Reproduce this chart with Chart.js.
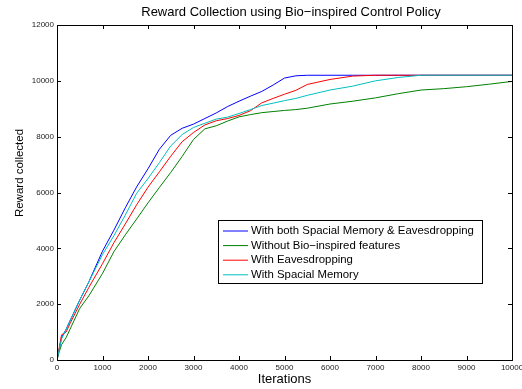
<!DOCTYPE html>
<html>
<head>
<meta charset="utf-8">
<script src="https://cdn.jsdelivr.net/npm/chart.js@4.4.1/dist/chart.umd.min.js"></script>
<style>
  body { margin: 0; background: #fff; }
  canvas { display: block; }
</style>
</head>
<body>
<canvas id="grafico" width="522" height="389"></canvas>
<script>
// valores
const iterations = [0, 50, 100, 200, 300, 500, 700, 1000, 1250, 1500, 1750, 2000, 2250, 2500, 2750, 3000,
    3250, 3500, 3750, 4000, 4250, 4500, 4750, 5000, 5250, 5500, 6000, 6500, 7000, 7500, 8000, 8500, 9000, 9500, 10000];

const rewardBoth = [0, 400, 800, 1100, 1450, 2150, 2800, 3900, 4650, 5450, 6200, 6850, 7550, 8050, 8300, 8450,
    8650, 8850, 9080, 9270, 9450, 9620, 9850, 10100, 10180, 10200, 10200, 10200, 10200, 10200, 10200, 10200, 10200, 10200, 10200];

const rewardNone = [0, 300, 550, 800, 1150, 1850, 2300, 3100, 3880, 4480, 5050, 5630, 6180, 6720, 7290, 7900,
    8280, 8390, 8560, 8710, 8790, 8860, 8900, 8940, 8970, 9020, 9170, 9270, 9390, 9540, 9670, 9720, 9790, 9880, 9980];

const rewardEaves = [0, 450, 900, 1000, 1350, 2000, 2600, 3450, 4200, 4870, 5560, 6190, 6740, 7300, 7820, 8150,
    8420, 8570, 8650, 8760, 8930, 9210, 9370, 9520, 9660, 9870, 10050, 10170, 10200, 10200, 10200, 10200, 10200, 10200, 10200];

const rewardSpatial = [0, 400, 750, 1100, 1450, 2150, 2800, 3780, 4450, 5190, 5970, 6500, 7070, 7670, 8075, 8330,
    8480, 8630, 8700, 8830, 8970, 9115, 9200, 9290, 9370, 9480, 9670, 9810, 10000, 10120, 10200, 10200, 10200, 10200, 10200];

const seriesLabels = [
    'With both Spacial Memory & Eavesdropping',
    'Without Bio\u2212inspired features',
    'With Eavesdropping',
    'With Spacial Memory'
];
const seriesColors = ['#0000ff', '#008000', '#ff0000', '#00bfbf'];

const xTicks = [0, 1000, 2000, 3000, 4000, 5000, 6000, 7000, 8000, 9000, 10000];
const yTicks = [0, 2000, 4000, 6000, 8000, 10000, 12000];

const FONTE = '"Liberation Sans", Arial, Helvetica, sans-serif';
const tituloGrafico = 'Reward Collection using Bio\u2212inspired Control Policy';
const tituloY = 'Reward collected';

function pontos(valores) {
    return iterations.map((it, i) => ({ x: it, y: valores[i] }));
}

// moldura, ticks para dentro, títulos e legenda dentro da área (estilo MATLAB)
const estiloMatlab = {
    id: 'estiloMatlab',
    afterDraw(chart) {
        const { ctx, chartArea: a, scales } = chart;
        ctx.save();
        ctx.strokeStyle = '#000';
        ctx.lineWidth = 1;
        ctx.strokeRect(Math.round(a.left) + 0.5, Math.round(a.top) + 0.5,
            Math.round(a.right - a.left), Math.round(a.bottom - a.top));

        const tam = 4;
        ctx.beginPath();
        xTicks.forEach(v => {
            const px = Math.round(scales.x.getPixelForValue(v)) + 0.5;
            ctx.moveTo(px, a.bottom); ctx.lineTo(px, a.bottom - tam);
            ctx.moveTo(px, a.top); ctx.lineTo(px, a.top + tam);
        });
        yTicks.forEach(v => {
            const py = Math.round(scales.y.getPixelForValue(v)) + 0.5;
            ctx.moveTo(a.left, py); ctx.lineTo(a.left + tam, py);
            ctx.moveTo(a.right, py); ctx.lineTo(a.right - tam, py);
        });
        ctx.stroke();

        ctx.fillStyle = '#000';
        ctx.textAlign = 'center';
        ctx.textBaseline = 'middle';

        // título do gráfico (no original fica um pouco à direita do centro)
        ctx.font = '13px ' + FONTE;
        ctx.fillText(tituloGrafico, 291, 12);

        // título do eixo y (um pouco acima do centro)
        ctx.save();
        ctx.translate(20, 173);
        ctx.rotate(-Math.PI / 2);
        ctx.font = '11.5px ' + FONTE;
        ctx.fillText(tituloY, 0, 0);
        ctx.restore();

        // legenda
        const lx = 218.5, ly = 220.5, lw = 264, lh = 63;
        ctx.fillStyle = '#fff';
        ctx.fillRect(lx, ly, lw, lh);
        ctx.strokeRect(lx, ly, lw, lh);
        ctx.font = '11.4px ' + FONTE;
        ctx.textAlign = 'left';
        chart.data.datasets.forEach((ds, i) => {
            const y = 231 + i * 14.6;
            ctx.strokeStyle = ds.borderColor;
            ctx.beginPath();
            ctx.moveTo(223, y); ctx.lineTo(248, y);
            ctx.stroke();
            ctx.fillStyle = '#000';
            ctx.fillText(ds.label, 251, y);
        });
        ctx.restore();
    }
};

const valores = [rewardBoth, rewardNone, rewardEaves, rewardSpatial];

const config = {
    type: 'line',
    data: {
        datasets: valores.map((v, i) => ({
            label: seriesLabels[i],
            data: pontos(v),
            borderColor: seriesColors[i],
            backgroundColor: seriesColors[i],
            borderWidth: 1,
            pointRadius: 0,
            tension: 0,
            fill: false,
            order: 4 - i // último desenhado por cima, como no MATLAB
        }))
    },
    options: {
        responsive: false,
        animation: false,
        layout: { padding: { left: 0, right: 10, top: 25, bottom: 0 } },
        plugins: {
            legend: { display: false },
            tooltip: { enabled: false },
            title: { display: false }
        },
        scales: {
            x: {
                type: 'linear',
                min: 0,
                max: 10000,
                afterBuildTicks: s => { s.ticks = xTicks.map(v => ({ value: v })); },
                afterFit: s => { s.height = 29; s.paddingLeft = 0; s.paddingRight = 0; },
                grid: { display: false, drawTicks: false },
                border: { display: false },
                ticks: {
                    color: '#222', font: { family: FONTE, size: 8 }, padding: 3,
                    maxRotation: 0, autoSkip: false, callback: v => String(v)
                },
                title: {
                    display: true,
                    text: 'Iterations',
                    color: '#000',
                    font: { family: FONTE, size: 13 },
                    padding: { top: 0, bottom: 2.2 }
                }
            },
            y: {
                type: 'linear',
                min: 0,
                max: 12000,
                afterBuildTicks: s => { s.ticks = yTicks.map(v => ({ value: v })); },
                afterFit: s => { s.width = 57; s.paddingTop = 0; s.paddingBottom = 0; },
                grid: { display: false, drawTicks: false },
                border: { display: false },
                ticks: {
                    color: '#222', font: { family: FONTE, size: 8 }, padding: 3,
                    autoSkip: false, callback: v => String(v)
                }
            }
        }
    },
    plugins: [estiloMatlab]
};

try {
    new Chart(document.getElementById('grafico'), config);
} catch (erro) {
    console.error('Erro ao criar o gráfico:', erro);
}
</script>
</body>
</html>
